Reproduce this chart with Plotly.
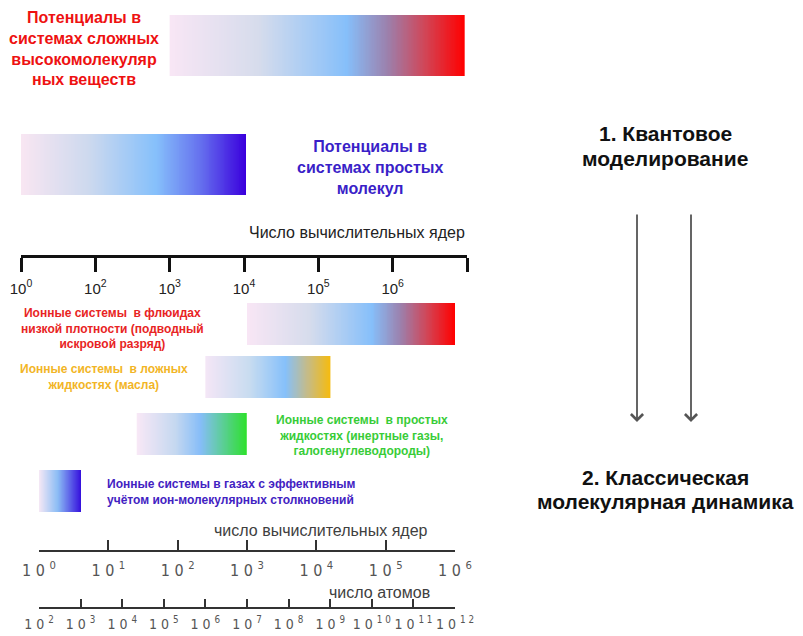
import numpy as np
import plotly.graph_objects as go

W, H = 803, 636
OFF = 8  # page body margin of the written html

# ---------------- data ----------------
# upper (quantum) scale: number of cores, non-uniform labelled ticks
TOP_TICK_EXP = [0, 2, 3, 4, 5, 6, 7]
TOP_TICK_TEXT = ["10<sup>0</sup>", "10<sup>2</sup>", "10<sup>3</sup>", "10<sup>4</sup>",
                 "10<sup>5</sup>", "10<sup>6</sup>", ""]
TOP_AXIS_TITLE = "Число вычислительных ядер"

QM_LABELS = ["Потенциалы в<br>системах сложных<br>высокомолекуляр<br>ных веществ",
             "Потенциалы в<br>системах простых<br>молекул"]
QM_START_EXP = [3.0, 0.0]
QM_END_EXP = [6.97, 4.03]

# lower (molecular dynamics) scales
CORES_EXP = [0, 1, 2, 3, 4, 5, 6]
ATOMS_EXP = [2, 3, 4, 5, 6, 7, 8, 9, 10, 11, 12]
CORES_TITLE = "число вычислительных ядер"
ATOMS_TITLE = "число атомов"

MD_LABELS = ["Ионные системы  в флюидах<br>низкой плотности (подводный<br>искровой разряд)",
             "Ионные системы  в ложных<br>жидкостях (масла)",
             "Ионные системы  в простых<br>жидкостях (инертные газы,<br>галогенуглеводороды)",
             "Ионные системы в газах с эффективным<br>учётом ион-молекулярных столкновений"]
MD_START_EXP = [3.0, 2.4, 1.41, 0.0]
MD_END_EXP = [6.0, 4.21, 3.0, 0.6]

METHODS = [["1. Квантовое", "моделирование"],
           ["2. Классическая", "молекулярная динамика"]]

# ---------------- styles / layout positions ----------------
RED_CS = [[0, '#f8e6f5'], [0.3, '#d6dcec'], [0.6, '#86bffa'], [0.74, '#9c80ac'],
          [0.87, '#d24455'], [1, '#ff0000']]
BLUE_CS = [[0, '#f8e6f2'], [0.3, '#cdd9ee'], [0.6, '#86c0fb'], [0.8, '#6570ee'], [1, '#3a00dd']]
YEL_CS = [[0, '#f4e6f6'], [0.35, '#c8dcf0'], [0.64, '#86c0fa'], [0.82, '#c6bb86'], [1, '#f5bb10']]
GRN_CS = [[0, '#f8e8f6'], [0.35, '#c5d8f0'], [0.58, '#86bdf8'], [1, '#2ee02e']]
VIO_CS = [[0, '#f5e8f5'], [0.45, '#8abcf5'], [1, '#3510dd']]

QM_CS = [RED_CS, BLUE_CS]
QM_BAR_Y = [(15, 76), (134, 195)]
QM_TEXT = [dict(x=84, y=48, color='#ee1111', anchor='center'),
           dict(x=370, y=167, color='#3a1fc8', anchor='center')]

MD_CS = [RED_CS, YEL_CS, GRN_CS, VIO_CS]
MD_BAR_Y = [(303, 345), (356, 398), (413, 455), (470, 512)]
MD_TEXT = [dict(x=112, y=328, color='#e82424', anchor='center'),
           dict(x=104, y=377, color='#f2b526', anchor='center'),
           dict(x=362, y=435, color='#38cc38', anchor='center'),
           dict(x=105, y=492, color='#4222c2', anchor='left')]

METHOD_Y = [(133, 158), (477, 501)]

TOP_AXIS = dict(x0=21, x1=467, y=256)
CORES_AXIS = dict(x0=39, x1=455, y=551)
ATOMS_AXIS = dict(x0=39, x1=455, y=608)

FONT = "Arial, Liberation Sans, sans-serif"
NARROW = "Liberation Sans Narrow, Arial Narrow, DejaVu Sans Condensed, Liberation Sans, sans-serif"

fig = go.Figure()


def grad_bar(x0, x1, ytop, ybot, cs, xaxis, n=240):
    fig.add_trace(go.Heatmap(
        x=np.linspace(x0, x1, n + 1), y=[ytop, ybot], z=[np.linspace(0, 1, n)],
        colorscale=cs, zmin=0, zmax=1, showscale=False, hoverinfo='skip',
        xaxis=xaxis, yaxis='y'))


top_idx = list(range(len(TOP_TICK_EXP)))
for s, e, cs, (yt, yb) in zip(QM_START_EXP, QM_END_EXP, QM_CS, QM_BAR_Y):
    grad_bar(np.interp(s, TOP_TICK_EXP, top_idx), np.interp(e, TOP_TICK_EXP, top_idx),
             yt, yb, cs, 'x2')

for s, e, cs, (yt, yb) in zip(MD_START_EXP, MD_END_EXP, MD_CS, MD_BAR_Y):
    grad_bar(s, e, yt, yb, cs, 'x3')

# invisible trace on the atoms axis so it is drawn
fig.add_trace(go.Scatter(x=[ATOMS_EXP[0]], y=[-10], mode='markers', marker=dict(opacity=0),
                         hoverinfo='skip', showlegend=False, xaxis='x4', yaxis='y'))

ann = []
for lab, t in zip(QM_LABELS, QM_TEXT):
    ann.append(dict(x=t['x'], y=t['y'], xref='x', yref='y', text='<b>' + lab + '</b>',
                    showarrow=False, xanchor=t['anchor'], yanchor='middle', align=t['anchor'],
                    font=dict(family=FONT, size=16, color=t['color'])))
for lab, t in zip(MD_LABELS, MD_TEXT):
    ann.append(dict(x=t['x'], y=t['y'], xref='x', yref='y', text='<b>' + lab + '</b>',
                    showarrow=False, xanchor=t['anchor'], yanchor='middle', align=t['anchor'],
                    font=dict(family=FONT, size=12, color=t['color'])))

for lines, ys in zip(METHODS, METHOD_Y):
    for txt, yy in zip(lines, ys):
        ann.append(dict(x=665, y=yy, xref='x', yref='y', text='<b>' + txt + '</b>',
                        showarrow=False, xanchor='center', yanchor='middle',
                        font=dict(family=FONT, size=21, color='#111111')))

for ax_x in [637, 691]:
    ann.append(dict(x=ax_x, y=422, ax=ax_x, ay=213, xref='x', yref='y', axref='x', ayref='y',
                    text='', showarrow=True, arrowhead=4, arrowsize=1.3, arrowwidth=1.8,
                    arrowcolor='#555555'))

ann.append(dict(x=len(TOP_TICK_EXP) - 1, y=232, xref='x2', yref='y', text=TOP_AXIS_TITLE,
                showarrow=False, xanchor='right', yanchor='middle',
                font=dict(family=FONT, size=16, color='#222222')))
ann.append(dict(x=430, y=530, xref='x', yref='y', text=CORES_TITLE, showarrow=False,
                xanchor='right', yanchor='middle', font=dict(family=FONT, size=16, color='#404040')))
ann.append(dict(x=432, y=592, xref='x', yref='y', text=ATOMS_TITLE, showarrow=False,
                xanchor='right', yanchor='middle', font=dict(family=FONT, size=16, color='#404040')))


def spaced(e):
    return "1 0 <sup>" + " ".join(str(e)) + "</sup>"


FW, FH = W - OFF, H - OFF


def dom(a):
    return [(a['x0'] - OFF) / FW, (a['x1'] - OFF) / FW]


def pos(y):
    return (H - y) / FH


common = dict(automargin=False, fixedrange=True, showgrid=False, zeroline=False, tickangle=0)

fig.update_layout(
    template='none',
    width=FW, height=FH, margin=dict(l=0, r=0, t=0, b=0, pad=0, autoexpand=False),
    paper_bgcolor='white', plot_bgcolor='rgba(0,0,0,0)', showlegend=False,
    xaxis=dict(range=[OFF, W], domain=[0, 1], visible=False, automargin=False, fixedrange=True),
    yaxis=dict(range=[H, OFF], domain=[0, 1], visible=False, automargin=False, fixedrange=True),
    xaxis2=dict(domain=dom(TOP_AXIS), range=[0, len(TOP_TICK_EXP) - 1],
                anchor='free', position=pos(TOP_AXIS['y']), side='bottom',
                showline=True, linewidth=2.5, linecolor='#111111',
                tickmode='array', tickvals=top_idx, ticktext=TOP_TICK_TEXT,
                ticks='outside', ticklen=14, tickwidth=2.5, tickcolor='#111111',
                ticklabelstandoff=4,
                tickfont=dict(family=FONT, size=15, color='#222222'), **common),
    xaxis3=dict(domain=dom(CORES_AXIS), range=[CORES_EXP[0], CORES_EXP[-1]],
                anchor='free', position=pos(CORES_AXIS['y']), side='bottom',
                showline=True, linewidth=1.5, linecolor='#333333',
                tickmode='array', tickvals=CORES_EXP, ticktext=[spaced(e) for e in CORES_EXP],
                ticks='inside', ticklen=10, tickwidth=1.5, tickcolor='#333333',
                ticklabelstandoff=5,
                tickfont=dict(family=NARROW, size=16, color='#555555'), **common),
    xaxis4=dict(domain=dom(ATOMS_AXIS), range=[ATOMS_EXP[0], ATOMS_EXP[-1]],
                anchor='free', position=pos(ATOMS_AXIS['y']), side='bottom',
                showline=True, linewidth=1.5, linecolor='#333333',
                tickmode='array', tickvals=ATOMS_EXP, ticktext=[spaced(e) for e in ATOMS_EXP],
                ticks='inside', ticklen=8, tickwidth=1.5, tickcolor='#333333',
                ticklabelstandoff=3,
                tickfont=dict(family=NARROW, size=14, color='#555555'), **common),
    annotations=ann,
)

fig.write_html("out.html")
